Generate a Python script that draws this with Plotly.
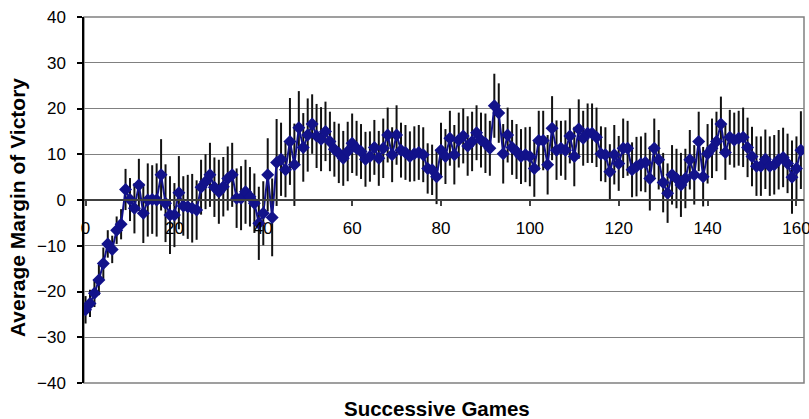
import plotly.graph_objects as go

# ---- data ----
games = list(range(162))

margin = [
    # 0-40
    -24, -22.6, -20.4, -17.5, -13.9, -9.6, -10.8, -6.6, -5.3, 2.3,
    0.1, -1.8, 3.3, -2.9, 0, 0.1, 0, 5.5, -0.7, -3.3,
    -3.3, 1.6, -1.3, -1.5, -1.8, -2.2, 2.8, 4.0, 5.5, 2.8,
    1.8, 2.9, 4.7, 5.5, 0.4, 0.4, 1.8, 0.7, -0.7, -5.1, -2.9,
    # 41-79
    5.5, -3.8, 8.2, 8.9, 6.6, 12.8, 7.7, 15.8, 11.5, 14.2,
    16.6, 14.0, 13.3, 15.0, 12.8, 11.1, 10.2, 9.1, 10.6, 12.4,
    11.3, 10.6, 8.9, 9.5, 11.5, 9.1, 11.3, 14.2, 9.9, 14.2,
    10.9, 10.4, 9.5, 10.1, 10.4, 9.9, 6.9, 6.6, 5.1,
    # 80-81
    10.9, 9.5,
    # 82-119
    13.5, 9.9, 13.1, 14.0, 11.8, 12.8, 14.7, 13.1, 12.4, 11.3,
    20.6, 19.0, 10.1, 14.2, 11.5, 10.6, 9.5, 9.9, 9.5, 6.9,
    13.0, 13.0, 7.7, 15.7, 10.9, 11.3, 10.9, 14.0, 9.5, 15.5,
    13.5, 14.6, 14.6, 13.7, 10.1, 9.9, 6.2, 9.9,
    # 120-161
    8.0, 11.3, 11.3, 6.6, 7.3, 7.9, 8.2, 4.7, 11.3, 8.8,
    3.8, 1.5, 5.5, 4.7, 3.3, 4.7, 8.8, 5.5, 12.8, 5.1,
    10.1, 11.3, 12.8, 16.6, 10.4, 13.7, 13.1, 13.5, 13.7, 11.5,
    9.5, 7.4, 7.4, 8.9, 7.4, 7.7, 8.8, 9.3, 8.0, 5.0,
    6.9, 10.9,
]

error = [
    3, 3, 3, 3.3, 3.5, 3, 3, 3, 3.3,
    4.5, 4.7, 5.5, 5.7, 6.5, 8, 7.5, 8, 7.8, 8.5, 8.5, 7,
    8, 6.5, 7, 7.5, 6.5, 6, 6, 7, 6.5, 7, 6.5, 7, 7, 6.5, 7, 7, 6.5, 6.5, 8, 7,
    8, 8.5, 9.5, 8, 6, 9.5, 9, 8, 7.5, 8, 6.5, 7, 7, 6.5, 6.5,
    6, 6.5, 6, 6.5, 6.5, 6, 6, 6, 5.5, 6, 6, 6.5, 6, 6, 6.5, 6, 6, 5.5, 6, 6, 6, 5.5, 5.5, 6, 6,
    6, 6, 6.5, 6, 6, 6.5, 6.5, 6, 6, 6.5, 6, 7, 6.5, 6.5, 6, 6, 6, 6, 6, 6.5,
    6.2, 6.5, 6.5, 6.5, 7, 6.5, 6, 6.5, 6, 6.5, 6.5, 6, 6.5, 6.5, 6.5, 6, 6, 6, 6.5, 6, 6.5,
    6, 6, 6.5, 6, 6.5, 7, 6.5, 6.5, 6.5, 6.5, 6.5, 6.5, 7, 6.5, 6.5, 6.5, 6.5, 6.5, 6.5, 6.5,
    6.5, 6, 6, 6, 6, 6, 6.5, 6.5, 6.5, 6.5, 6.5, 6.5, 6.5, 6.5, 6.5, 6.5, 6.5, 8, 7, 8.5,
]

x_ticks = [0, 20, 40, 60, 80, 100, 120, 140, 160]
y_ticks = [-40, -30, -20, -10, 0, 10, 20, 30, 40]

FONT = "Liberation Sans, Arial, sans-serif"
NAVY = "#12128a"

fig = go.Figure()
fig.add_trace(go.Scatter(
    x=games, y=margin, mode="lines+markers",
    line=dict(color=NAVY, width=2),
    marker=dict(symbol="diamond", size=10, color=NAVY),
    error_y=dict(type="data", array=error, visible=True,
                 color="#111111", thickness=2, width=0),
    showlegend=False,
))

fig.update_layout(
    width=809, height=419,
    margin=dict(l=84, r=5, t=17, b=36, autoexpand=False),
    paper_bgcolor="white", plot_bgcolor="white",
    font=dict(family=FONT, color="black", size=17),
    xaxis=dict(
        range=[-0.35, 161.7], tickvals=x_ticks, ticktext=[str(v) for v in x_ticks],
        anchor="free", position=0.5, automargin=False,
        showline=True, linecolor="#404040", linewidth=1.5,
        ticks="outside", ticklen=5, tickcolor="#404040", tickwidth=1.5,
        showgrid=False, zeroline=False,
        ticklabelstandoff=8, ticklabeloverflow="allow",
        tickfont=dict(size=17, family=FONT, color="black"),
    ),
    yaxis=dict(
        range=[-40, 40], tickvals=y_ticks, automargin=False,
        showline=True, linecolor="black", linewidth=1.5,
        ticks="outside", ticklen=5, tickcolor="black", tickwidth=1.5,
        showgrid=True, gridcolor="#808080", gridwidth=1.2,
        zeroline=False, ticklabelstandoff=8,
        tickfont=dict(size=17, family=FONT, color="black"),
    ),
    shapes=[dict(type="rect", xref="paper", yref="paper", x0=0, x1=1, y0=0, y1=1,
                 line=dict(color="#808080", width=1.5), layer="below")],
    annotations=[
        dict(text="<b>Successive Games</b>", xref="paper", yref="paper",
             x=0.49, y=-0.071, xanchor="center", yanchor="middle", showarrow=False,
             font=dict(size=20.5, family=FONT, color="black")),
        dict(text="<b>Average Margin of Victory</b>", xref="paper", yref="paper",
             x=-0.092, y=0.48, xanchor="center", yanchor="middle", showarrow=False,
             textangle=-90, font=dict(size=21, family=FONT, color="black")),
    ],
)

fig.write_html("out.html")
